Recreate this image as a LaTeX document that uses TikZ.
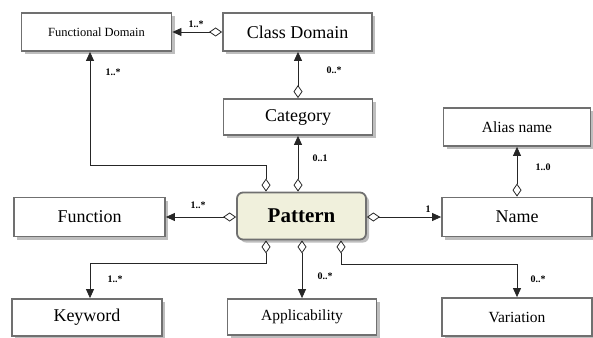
\documentclass[tikz,border=0pt]{standalone}
\usepackage{fontspec}
\setmainfont{Liberation Serif}
\usetikzlibrary{arrows.meta,shadows,calc}

\definecolor{boxline}{RGB}{112,112,112}
\definecolor{patfill}{RGB}{240,240,220}
\definecolor{shade}{RGB}{190,190,190}

\tikzset{
  cls/.style={draw=boxline, line width=1.8pt, fill=white, inner sep=0pt,
    drop shadow={shadow xshift=3pt, shadow yshift=-3pt, fill=shade, opacity=1}},
  bigtxt/.style={font=\fontsize{18}{20}\selectfont},
  midtxt/.style={font=\fontsize{15.5}{18}\selectfont},
  smalltxt/.style={font=\fontsize{12.5}{15}\selectfont},
  mult/.style={font=\bfseries\fontsize{10}{12}\selectfont, inner sep=0pt},
  agg/.style={draw=black!85, line width=0.8pt,
    {Diamond[open, length=13pt, width=9pt, line width=0.8pt]}-{Triangle[length=9pt, width=8pt]}},
}

\begin{document}
\begin{tikzpicture}[x=1pt, y=-1pt]
  \useasboundingbox (0,0) rectangle (593,337);

  % classes
  \node[cls, smalltxt, minimum width=150pt, minimum height=38pt] (fd) at (96.5,32) {Functional Domain};
  \node[cls, bigtxt, minimum width=149pt, minimum height=38pt] (cd) at (297.5,32) {Class Domain};
  \node[cls, bigtxt, minimum width=149pt, minimum height=36pt] (cat) at (298,117) {Category};
  \node[cls, midtxt, minimum width=147pt, minimum height=38pt] (alias) at (517,127) {Alias name};
  \node[cls, bigtxt, minimum width=151pt, minimum height=39pt] (func) at (89.5,217) {Function};
  \node[cls, bigtxt, minimum width=150pt, minimum height=39pt] (name) at (517,217) {Name};
  \node[cls, bigtxt, minimum width=150pt, minimum height=37pt] (kw) at (87,317.5) {Keyword};
  \node[cls, midtxt, minimum width=149pt, minimum height=36pt] (app) at (302,317) {Applicability};
  \node[cls, midtxt, minimum width=150pt, minimum height=38pt] (var) at (517,317) {Variation};

  % central class
  \node[cls, fill=patfill, rounded corners=6pt, minimum width=129pt, minimum height=47pt,
        font=\bfseries\fontsize{21}{24}\selectfont] (pat) at (301.5,216) {Pattern};

  % bend points
  \coordinate (fdbend) at (90,165);
  \coordinate (kwbend) at (90,263);
  \coordinate (varbend) at (517,264);

  % aggregations
  \draw[agg] (cd.west) -- (fd.east);
  \draw[agg] (cat.north) -- (cat.north |- cd.south);
  \draw[agg] (cat.south |- pat.north) -- (cat.south);
  \draw[agg] ([xshift=-35.5pt]pat.north) |- (fdbend) -- (fdbend |- fd.south);
  \draw[agg] (pat.west |- func.east) -- (func.east);
  \draw[agg] (pat.east |- name.west) -- (name.west);
  \draw[agg] (name.north) -- (alias.south);
  \draw[agg] ([xshift=-35.5pt]pat.south) |- (kwbend) -- (kwbend |- kw.north);
  \draw[agg] (app.north |- pat.south) -- (app.north);
  \draw[agg] ([xshift=39.5pt]pat.south) |- (varbend) -- (var.north);

  % multiplicities
  \node[mult] (m1) at (196,24) {1..*};
  \node[mult] (m2) at (113,72) {1..*};
  \node[mult] (m3) at (334,70) {0..*};
  \node[mult] (m4) at (320,158) {0..1};
  \node[mult] (m5) at (543,167) {1..0};
  \node[mult] (m6) at (428,209) {1};
  \node[mult] (m7) at (198,205) {1..*};
  \node[mult] (m8) at (115,279) {1..*};
  \node[mult] (m9) at (325,276) {0..*};
  \node[mult] (m10) at (538,279) {0..*};
\end{tikzpicture}
\end{document}
